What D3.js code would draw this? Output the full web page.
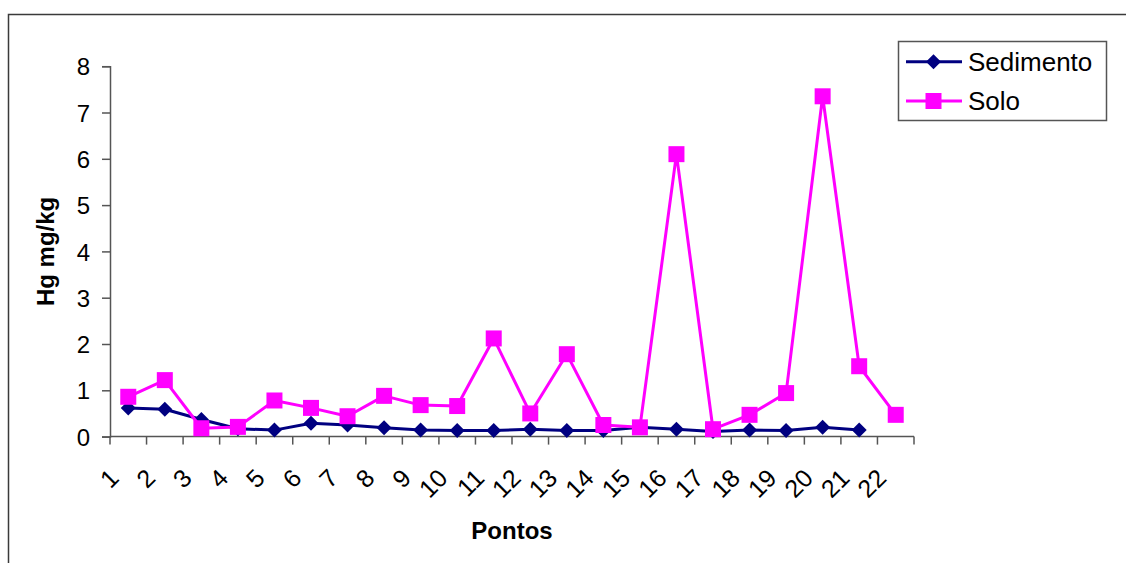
<!DOCTYPE html>
<html>
<head>
<meta charset="utf-8">
<script src="https://cdn.jsdelivr.net/npm/d3@7"></script>
<style>
  html, body { margin: 0; padding: 0; background: #fff; }
  svg { display: block; }
  text { font-family: Arial, "Liberation Sans", sans-serif; fill: #000; }
</style>
</head>
<body>
<svg id="chart" width="1126" height="563"></svg>
<script>
// Sampling points 1..22
const pontos = ["1","2","3","4","5","6","7","8","9","10","11","12","13","14","15","16","17","18","19","20","21","22"];
// Hg concentration (mg/kg) in sediment; point 22 has no sediment sample
const sedimento = [0.62,0.59,0.37,0.17,0.14,0.29,0.25,0.19,0.14,0.13,0.13,0.16,0.13,0.13,0.20,0.16,0.11,0.14,0.13,0.20,0.14,null];
// Hg concentration (mg/kg) in soil
const solo = [0.86,1.22,0.18,0.21,0.78,0.62,0.44,0.88,0.68,0.66,2.12,0.50,1.78,0.25,0.20,6.10,0.16,0.47,0.94,7.35,1.52,0.47];
const yTicks = [0,1,2,3,4,5,6,7,8];
const seriesNames = ["Sedimento","Solo"];

const svg = d3.select("#chart");
const plot = { left: 110, right: 914, top: 66.2, bottom: 436.6 };
const axisColor = "#555";

// Outer chart frame (runs past the right and bottom edges)
svg.append("rect")
  .attr("x", 8.5).attr("y", 14.5)
  .attr("width", 1140).attr("height", 600)
  .attr("fill", "#fff").attr("stroke", "#3a3a3a").attr("stroke-width", 1.5);

const x = d3.scaleBand().domain(pontos).range([plot.left, plot.right]).paddingInner(0).paddingOuter(0);
const y = d3.scaleLinear().domain([0, 8]).range([plot.bottom, plot.top]);
const cx = d => x(d) + x.bandwidth() / 2;

// Y axis
const yAxis = svg.append("g").attr("transform", `translate(${plot.left},0)`)
  .call(d3.axisLeft(y).tickValues(yTicks).tickSize(8).tickPadding(12).tickFormat(d3.format("d")));
yAxis.select(".domain").attr("stroke", axisColor).attr("stroke-width", 1.5);
yAxis.selectAll(".tick line").attr("stroke", axisColor).attr("stroke-width", 1.5);
yAxis.selectAll(".tick text").attr("font-size", 24).attr("font-family", "Arial, 'Liberation Sans', sans-serif").attr("dy", "0.36em");

// X axis: ticks on category boundaries, labels rotated under each category
const xg = svg.append("g");
xg.append("line")
  .attr("x1", plot.left).attr("x2", plot.right)
  .attr("y1", y(0)).attr("y2", y(0))
  .attr("stroke", axisColor).attr("stroke-width", 1.5);
const boundaries = pontos.map(p => x(p)).concat([x(pontos[pontos.length - 1]) + x.bandwidth()]);
xg.selectAll("line.tk").data(boundaries).join("line")
  .attr("class", "tk")
  .attr("x1", d => d).attr("x2", d => d)
  .attr("y1", y(0)).attr("y2", y(0) + 8)
  .attr("stroke", axisColor).attr("stroke-width", 1.5);
xg.selectAll("text").data(pontos).join("text")
  .attr("text-anchor", "end")
  .attr("font-size", 25)
  .attr("transform", d => `translate(${cx(d) - 8},${y(0) + 43}) rotate(-45)`)
  .text(d => d);

// Axis titles
svg.append("text")
  .attr("x", (plot.left + plot.right) / 2).attr("y", 539)
  .attr("text-anchor", "middle").attr("font-size", 24).attr("font-weight", "bold")
  .text("Pontos");
svg.append("text")
  .attr("transform", `translate(54,${(plot.top + plot.bottom) / 2}) rotate(-90)`)
  .attr("text-anchor", "middle").attr("font-size", 24).attr("font-weight", "bold")
  .text("Hg mg/kg");

// Marker shapes
const diamondType = {
  draw(ctx, size) {
    const r = Math.sqrt(size / 2);
    ctx.moveTo(0, -r); ctx.lineTo(r, 0); ctx.lineTo(0, r); ctx.lineTo(-r, 0); ctx.closePath();
  }
};
const diamond = d3.symbol().type(diamondType).size(2 * 7.5 * 7.5);
const square = d3.symbol().type(d3.symbolSquare).size(16 * 16);

const series = [
  { name: seriesNames[0], values: sedimento, color: "#000080", symbol: diamond },
  { name: seriesNames[1], values: solo, color: "#FF00FF", symbol: square }
];

const line = d3.line()
  .defined(d => d.v != null)
  .x(d => cx(d.p))
  .y(d => y(d.v));

series.forEach(s => {
  const pts = pontos.map((p, i) => ({ p, v: s.values[i] }));
  const g = svg.append("g");
  g.append("path").datum(pts)
    .attr("d", line).attr("fill", "none")
    .attr("stroke", s.color).attr("stroke-width", 3).attr("stroke-linejoin", "round");
  g.selectAll("path.m").data(pts.filter(d => d.v != null)).join("path")
    .attr("class", "m")
    .attr("transform", d => `translate(${cx(d.p)},${y(d.v)})`)
    .attr("d", s.symbol())
    .attr("fill", s.color);
});

// Legend
const lg = svg.append("g");
lg.append("rect")
  .attr("x", 898.5).attr("y", 41.5).attr("width", 208).attr("height", 79)
  .attr("fill", "#fff").attr("stroke", "#555").attr("stroke-width", 1.5);
series.forEach((s, i) => {
  const ly = 61.7 + i * 39.3;
  lg.append("line").attr("x1", 906).attr("x2", 962).attr("y1", ly).attr("y2", ly)
    .attr("stroke", s.color).attr("stroke-width", 3);
  lg.append("path").attr("transform", `translate(933.5,${ly})`).attr("d", s.symbol()).attr("fill", s.color);
  lg.append("text").attr("x", 968).attr("y", ly).attr("dy", "0.36em")
    .attr("font-size", 26).text(s.name);
});
</script>
</body>
</html>
